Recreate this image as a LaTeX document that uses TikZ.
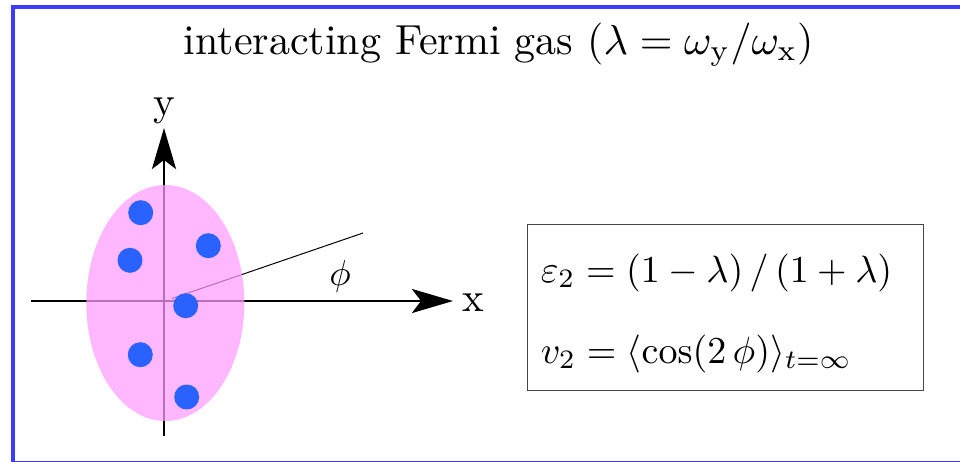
\RequirePackage{fix-cm}
\documentclass[tikz,border=0pt]{standalone}
\usetikzlibrary{arrows.meta,shapes.geometric}
\definecolor{frameblue}{RGB}{60,60,255}
\definecolor{gaspink}{RGB}{255,156,255}
\definecolor{partblue}{RGB}{41,98,255}
\definecolor{boxgray}{RGB}{70,70,70}
\begin{document}
\begin{tikzpicture}[x=1pt,y=-1pt,
  axis/.style={line width=2.8pt,-{Stealth[length=41pt,width=24pt,inset=9pt]}},
  particle/.style={circle,fill=partblue,inner sep=0pt,minimum size=25pt},
  lbl/.style={inner sep=0pt,anchor=base}]
\fill[white] (0,0) rectangle (960,461);
\useasboundingbox (0,0) rectangle (960,461);
\draw[frameblue,line width=3.5pt] (13,7) rectangle (965,463);
% title
\node[inner sep=0pt,anchor=base west,scale=4.2] (title) at (183,54)
  {interacting Fermi gas ($\lambda = \omega_{\mathrm{y}}/\omega_{\mathrm{x}}$)};
% axes
\coordinate (O) at (164,301);
\coordinate (xs) at (31,301);
\coordinate (xe) at (453,301);
\coordinate (ys) at (164,436);
\coordinate (ye) at (164,128);
\draw[axis] (xs) -- (xe);
\draw[axis] (ys) -- (ye);
\coordinate (ps) at (172,298.5);
\coordinate (pe) at (363,233);
\draw[line width=1pt] (ps) -- (pe);
% gas cloud
\node[ellipse,fill=gaspink,fill opacity=0.72,minimum width=158pt,minimum height=236pt,inner sep=0pt] (gas) at (165.3,303) {};
% particles
\node[particle] (p1) at (140.7,212.7) {};
\node[particle] (p2) at (208.3,245.7) {};
\node[particle] (p3) at (130,260.3) {};
\node[particle] (p4) at (185.7,305.7) {};
\node[particle] (p5) at (140.3,354.7) {};
\node[particle] (p6) at (186.7,397) {};
% labels
\node[lbl,scale=4.1] (xl) at (473,311.7) {x};
\node[lbl,scale=4.1] (yl) at (164.3,115) {y};
\node[lbl,scale=3.6] (phi) at (340,285) {$\phi$};
% formula box
\node[draw=boxgray,line width=1.4pt,minimum width=396pt,minimum height=166pt,inner sep=0pt,anchor=north west] (box) at (527,224) {};
\node[inner sep=0pt,anchor=base west,scale=3.8] (eps) at (540,282)
  {$\varepsilon_2 = (1-\lambda)\,/\,(1+\lambda)$};
\node[inner sep=0pt,anchor=base west,scale=3.8] (v2) at (540,363)
  {$v_2 = \langle\cos(2\,\phi)\rangle_{t=\infty}$};
\end{tikzpicture}
\end{document}
